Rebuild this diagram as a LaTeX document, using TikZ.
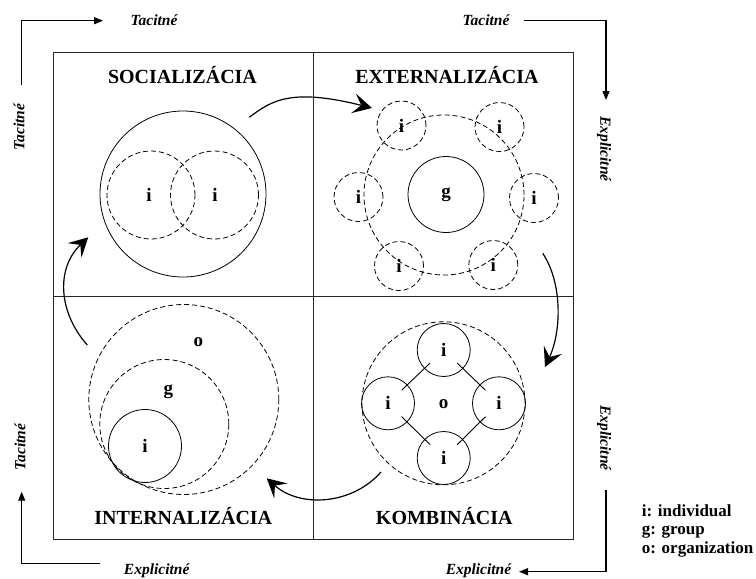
\documentclass[tikz,border=0pt]{standalone}
\usepackage{fontspec}
\setmainfont{Liberation Serif}
\usetikzlibrary{arrows.meta}
\begin{document}
\begin{tikzpicture}[x=1pt,y=-1pt,
  frame/.style={draw=black!85, line width=0.9pt},
  title/.style={font=\bfseries\fontsize{20}{24}\selectfont, inner sep=0pt},
  axislbl/.style={font=\bfseries\itshape\fontsize{15.5}{18}\selectfont, inner sep=0pt},
  lbl/.style={font=\bfseries\fontsize{19}{20}\selectfont},
  solidc/.style={circle, draw, line width=0.8pt, inner sep=0pt},
  dashc/.style={circle, draw, dash pattern=on 5pt off 3pt, line width=0.8pt, inner sep=0pt},
  flow/.style={line width=1.2pt, -{Stealth[length=19pt,width=20pt,inset=8pt]}},
  corner/.style={line width=1.3pt, -{Triangle[length=9pt,width=7pt]}},
  tie/.style={line width=0.9pt, shorten <=-8pt, shorten >=-8pt},
  legend/.style={font=\bfseries\fontsize{17}{18.5}\selectfont, align=left, inner sep=0pt, anchor=north west}
]
\useasboundingbox (0,0) rectangle (756,579);

% frame
\coordinate (fTL) at (53.3,52.7);
\coordinate (fBR) at (573.7,539.3);
\coordinate (mT) at (313.3,52.7);
\coordinate (mB) at (313.3,539.3);
\coordinate (mL) at (53.3,296);
\coordinate (mR) at (573.7,296);
\draw[frame] (fTL) rectangle (fBR);
\draw[frame] (mT) -- (mB);
\draw[frame] (mL) -- (mR);

% titles
\node[title] (tsoc) at (182.5,75) {SOCIALIZÁCIA};
\node[title] (text) at (447,75) {EXTERNALIZÁCIA};
\node[title] (tint) at (183.3,516.5) {INTERNALIZÁCIA};
\node[title] (tkom) at (444.3,516.5) {KOMBINÁCIA};

% socialization
\node[solidc, minimum size=166pt] (sbig) at (183,194) {};
\node[dashc, minimum size=88pt] (s1) at (151,195) {};
\node[dashc, minimum size=88pt] (s2) at (214.5,195) {};
\node[lbl] (s1l) at (149,195) {i};
\node[lbl] (s2l) at (215,195) {i};

% externalization
\node[dashc, minimum size=160pt] (ebig) at (444,195) {};
\node[solidc, lbl, minimum size=76pt] (eg) at (446,194.5) {g};
\node[dashc, lbl, minimum size=49pt] (e1) at (401.5,125.5) {i};
\node[dashc, lbl, minimum size=49pt] (e2) at (499.5,127) {i};
\node[dashc, lbl, minimum size=49pt] (e3) at (534,198) {i};
\node[dashc, lbl, minimum size=49pt] (e4) at (493.3,265) {i};
\node[dashc, lbl, minimum size=49pt] (e5) at (399,266) {i};
\node[dashc, lbl, minimum size=49pt] (e6) at (358.5,197) {i};

% kombinacia
\node[dashc, minimum size=163pt] (kbig) at (443.5,403.3) {};
\node[solidc, lbl, minimum size=53pt] (kt) at (443.7,350) {i};
\node[solidc, lbl, minimum size=53pt] (kl) at (388,403.3) {i};
\node[solidc, lbl, minimum size=53pt] (kr) at (499,403.3) {i};
\node[solidc, lbl, minimum size=53pt] (kb) at (443.7,458) {i};
\node[lbl] (ko) at (443.7,404) {o};
\draw[tie] (kl) -- (kt);
\draw[tie] (kt) -- (kr);
\draw[tie] (kr) -- (kb);
\draw[tie] (kb) -- (kl);

% internalization
\node[dashc, minimum size=190pt] (io) at (183.8,399.5) {};
\node[dashc, minimum size=129pt] (ig) at (164.3,424) {};
\node[solidc, lbl, minimum size=73pt] (ii) at (145,446) {i};
\node[lbl] (iol) at (198.3,341.7) {o};
\node[lbl] (igl) at (168.3,391.7) {g};

% flow arrows
\coordinate (a1s) at (249.3,117.3);
\coordinate (a1e) at (372,108);
\draw[flow] (a1s) .. controls (272,100) and (292,88) .. (a1e);
\coordinate (a2s) at (542.7,253.3);
\coordinate (a2e) at (545,367);
\draw[flow] (a2s) .. controls (562,282) and (562,330) .. (a2e);
\coordinate (a3s) at (381,472);
\coordinate (a3e) at (266.7,478.3);
\draw[flow] (a3s) .. controls (352,505) and (300,508) .. (a3e);
\coordinate (a4s) at (87.3,345);
\coordinate (a4e) at (88.3,237.3);
\draw[flow] (a4s) .. controls (58,312) and (56,268) .. (a4e);

% corner arrows and labels
\node[axislbl] (tlT) at (154,20) {Tacitné};
\node[axislbl, rotate=90] (tlL) at (19,127) {Tacitné};
\coordinate (c1a) at (21.7,85);
\coordinate (c1b) at (21.7,20.7);
\coordinate (c1c) at (103,20.7);
\draw[corner] (c1a) -- (c1b) -- (c1c);

\node[axislbl] (trT) at (486,20) {Tacitné};
\node[axislbl, rotate=-90] (trR) at (604,149) {Explicitné};
\coordinate (c2a) at (524,20.7);
\coordinate (c2b) at (606,20.7);
\coordinate (c2c) at (606,100);
\draw[corner] (c2a) -- (c2b) -- (c2c);

\node[axislbl, rotate=-90] (brR) at (604,438) {Explicitné};
\node[axislbl] (brB) at (478.5,571) {Explicitné};
\coordinate (c3a) at (606,490);
\coordinate (c3b) at (606,571.7);
\coordinate (c3c) at (519,571.7);
\draw[corner] (c3a) -- (c3b) -- (c3c);

\node[axislbl] (blB) at (156.7,571) {Explicitné};
\node[axislbl, rotate=90] (blL) at (20,447) {Tacitné};
\coordinate (c4a) at (100,563.3);
\coordinate (c4b) at (21.7,563.3);
\coordinate (c4c) at (21.7,491.7);
\draw[corner] (c4a) -- (c4b) -- (c4c);

% legend
\node[legend] (leg) at (641.7,504) {i: individual\\g: group\\o: organization};
\end{tikzpicture}
\end{document}
